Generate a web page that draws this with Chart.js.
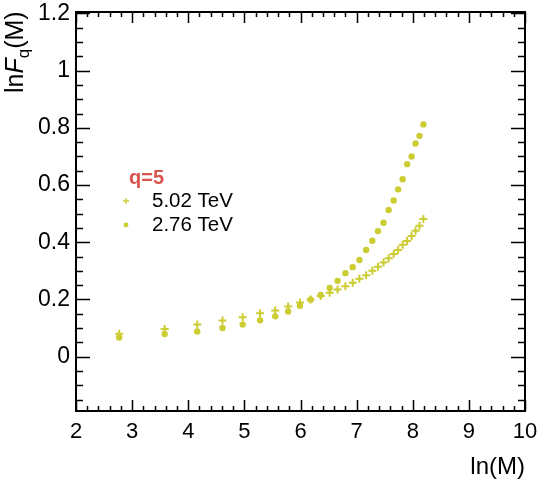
<!DOCTYPE html>
<html>
<head>
<meta charset="utf-8">
<script src="https://cdn.jsdelivr.net/npm/chart.js@4.4.1/dist/chart.umd.min.js"></script>
<style>
  body { margin: 0; background: #fff; }
</style>
</head>
<body>
<canvas id="myChart" width="539" height="481"></canvas>
<script>
// ln(M) positions of the points
let lnM = [2.77, 3.58, 4.16, 4.61, 4.97, 5.28, 5.55, 5.78, 5.99, 6.18, 6.36, 6.52, 6.66, 6.80, 6.93,
  7.05, 7.17, 7.28, 7.38, 7.48, 7.57, 7.66, 7.74, 7.82, 7.90, 7.98, 8.05, 8.12, 8.19];
// lnFq(M), q=5
let f502 = [0.080, 0.097, 0.112, 0.126, 0.138, 0.152, 0.161, 0.175, 0.189, 0.200, 0.212, 0.223, 0.235, 0.246, 0.258,
  0.272, 0.285, 0.300, 0.314, 0.329, 0.344, 0.359, 0.373, 0.391, 0.404, 0.422, 0.440, 0.458, 0.481];
let f276 = [0.067, 0.079, 0.088, 0.100, 0.112, 0.127, 0.141, 0.158, 0.178, 0.199, 0.216, 0.240, 0.265, 0.292, 0.313,
  0.338, 0.373, 0.405, 0.439, 0.468, 0.513, 0.546, 0.585, 0.620, 0.673, 0.700, 0.745, 0.772, 0.812];

let xTicks = [2, 3, 4, 5, 6, 7, 8, 9, 10];
let yTicks = [0, 0.2, 0.4, 0.6, 0.8, 1, 1.2];

let markColor = "#cccc33";
let font = "'Liberation Sans', Arial, sans-serif";

function pts(xs, ys) {
  return xs.map((x, i) => ({ x: x, y: ys[i] }));
}

// frame with inside ticks (ROOT style)
const framePlugin = {
  id: "frame",
  afterDraw(chart) {
    const ctx = chart.ctx;
    const a = chart.chartArea;
    const xs = chart.scales.x, ys = chart.scales.y;
    ctx.save();
    ctx.strokeStyle = "#000";
    ctx.lineWidth = 2;
    ctx.strokeRect(a.left, a.top, a.right - a.left, a.bottom - a.top);
    ctx.lineWidth = 1.5;
    ctx.beginPath();
    for (let v = xs.min; v <= xs.max + 1e-9; v += 0.2) {
      let px = Math.round(xs.getPixelForValue(v)) + 0.5;
      let major = Math.abs(v - Math.round(v)) < 1e-6;
      let len = major ? 11 : 5;
      ctx.moveTo(px, a.bottom); ctx.lineTo(px, a.bottom - len);
      ctx.moveTo(px, a.top); ctx.lineTo(px, a.top + len);
    }
    for (let v = -0.15; v <= ys.max + 1e-9; v += 0.05) {
      let py = Math.round(ys.getPixelForValue(v)) + 0.5;
      let major = Math.abs(v / 0.2 - Math.round(v / 0.2)) < 1e-6;
      let len = major ? 14 : 7;
      ctx.moveTo(a.left, py); ctx.lineTo(a.left + len, py);
      ctx.moveTo(a.right, py); ctx.lineTo(a.right - len, py);
    }
    ctx.stroke();

    // axis titles
    ctx.fillStyle = "#000";
    ctx.font = "24px " + font;
    ctx.textAlign = "right";
    ctx.textBaseline = "alphabetic";
    ctx.fillText("ln(M)", a.right, 474);

    ctx.save();
    ctx.translate(23, 93);
    ctx.rotate(-Math.PI / 2);
    ctx.textAlign = "left";
    let x = 0;
    ctx.font = "25px " + font;
    ctx.fillText("ln", x, 0); x += ctx.measureText("ln").width;
    ctx.font = "italic 25px " + font;
    ctx.fillText("F", x, 0); x += ctx.measureText("F").width;
    ctx.font = "17px " + font;
    ctx.fillText("q", x, 6); x += ctx.measureText("q").width;
    ctx.font = "25px " + font;
    ctx.fillText("(M)", x, 0);
    ctx.restore();

    // legend
    ctx.textAlign = "left";
    ctx.textBaseline = "middle";
    ctx.fillStyle = "#d9534f";
    ctx.font = "bold 20px " + font;
    ctx.fillText("q=5", 129, 178);
    let rows = [201, 225];
    chart.data.datasets.forEach((ds, i) => {
      let y = rows[i];
      ctx.strokeStyle = markColor;
      ctx.fillStyle = markColor;
      ctx.lineWidth = 1.3;
      if (ds.pointStyle === "cross") {
        ctx.beginPath();
        ctx.moveTo(123, y); ctx.lineTo(129, y);
        ctx.moveTo(126, y - 3); ctx.lineTo(126, y + 3);
        ctx.stroke();
      } else {
        ctx.beginPath();
        ctx.arc(126, y, 2.4, 0, Math.PI * 2);
        ctx.fill();
      }
      ctx.fillStyle = "#000";
      ctx.font = "20.5px " + font;
      ctx.fillText(ds.label, 152, y);
    });
    ctx.restore();
  }
};

const config = {
  type: "scatter",
  data: {
    datasets: [{
      label: "5.02 TeV",
      data: pts(lnM, f502),
      pointStyle: "cross",
      pointRadius: 4,
      pointBorderWidth: 2,
      borderColor: markColor,
      backgroundColor: markColor
    }, {
      label: "2.76 TeV",
      data: pts(lnM, f276),
      pointStyle: "circle",
      pointRadius: 3.2,
      pointBorderWidth: 0,
      borderColor: markColor,
      backgroundColor: markColor
    }]
  },
  options: {
    responsive: false,
    animation: false,
    layout: { padding: { top: 12, right: 14, left: 0, bottom: 0 } },
    plugins: { legend: { display: false }, tooltip: { enabled: false } },
    scales: {
      x: {
        type: "linear",
        min: 2,
        max: 10,
        afterBuildTicks: s => { s.ticks = xTicks.map(v => ({ value: v })); },
        afterFit: s => { s.height = 70; s.paddingLeft = 0; s.paddingRight = 0; },
        grid: { display: false, drawTicks: false },
        border: { display: false },
        ticks: { color: "#000", padding: 8, font: { family: font, size: 22 }, maxRotation: 0 }
      },
      y: {
        min: -0.19,
        max: 1.205,
        afterBuildTicks: s => { s.ticks = yTicks.map(v => ({ value: v })); },
        afterFit: s => { s.width = 76; s.paddingTop = 0; s.paddingBottom = 0; },
        grid: { display: false, drawTicks: false },
        border: { display: false },
        ticks: {
          color: "#000", padding: 6, font: { family: font, size: 23 },
          callback: v => String(+v.toFixed(2))
        }
      }
    }
  },
  plugins: [framePlugin]
};

new Chart(document.getElementById("myChart"), config);
</script>
</body>
</html>
